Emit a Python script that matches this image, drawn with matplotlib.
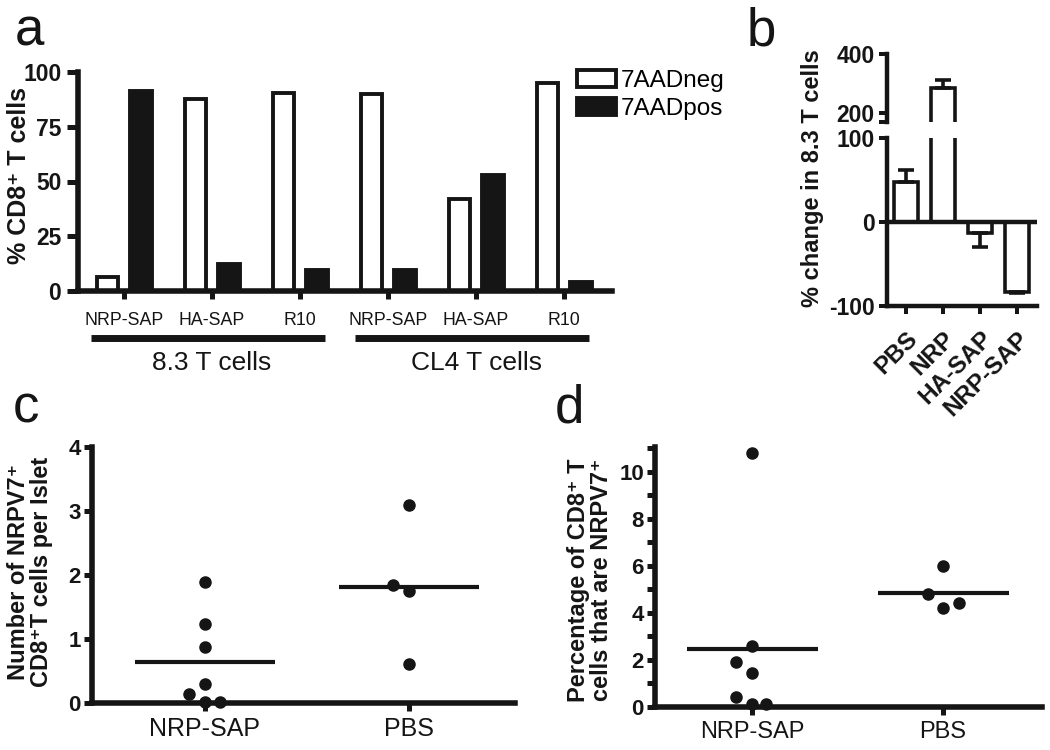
import matplotlib
matplotlib.use('Agg')
import matplotlib.pyplot as plt
import numpy as np
from matplotlib import font_manager

plt.rcParams['font.family'] = ['Liberation Sans', 'DejaVu Sans']
installed = {f.name for f in font_manager.fontManager.ttflist}
narrow = 'Liberation Sans Narrow' if 'Liberation Sans Narrow' in installed else 'Liberation Sans'
narrow_size = 15 if narrow == 'Liberation Sans Narrow' else 12.8
INK = '#151515'

# panel a: viability of 8.3 / CL4 T cells after treatment
a_groups = ['NRP-SAP', 'HA-SAP', 'R10', 'NRP-SAP', 'HA-SAP', 'R10']
a_neg = [6.4, 87.5, 90.4, 90.1, 41.9, 95.0]
a_pos = [91.2, 12.2, 9.4, 9.7, 52.8, 4.1]
a_cells = ['8.3 T cells', 'CL4 T cells']

# panel b: % change in 8.3 T cells
b_labels = ['PBS', 'NRP', 'HA-SAP', 'NRP-SAP']
b_change = [47.5, 285, -13.5, -83]
b_err = [14, 27, 16, 1]

# panel c: NRPV7+ CD8+ T cells per islet
c_groups = ['NRP-SAP', 'PBS']
c_nrp = [1.89, 1.23, 0.875, 0.30, 0.146, 0.016, 0.016]
c_nrp_dx = [0, 0, 0, 0, -0.08, 0, 0.075]
c_pbs = [3.09, 1.85, 1.75, 0.61]
c_pbs_dx = [0, -0.08, 0, 0]
c_means = [0.64, 1.82]

# panel d: % of CD8+ T cells that are NRPV7+
d_groups = ['NRP-SAP', 'PBS']
d_nrp = [10.82, 2.60, 1.91, 1.45, 0.43, 0.14, 0.14]
d_nrp_dx = [0, 0, -0.082, 0, -0.082, 0, 0.075]
d_pbs = [5.99, 4.82, 4.21, 4.43]
d_pbs_dx = [0, -0.08, 0, 0.085]
d_means = [2.48, 4.85]

W, H = 1050, 750
fig = plt.figure(figsize=(W / 100, H / 100), dpi=100)


def px_box(l, t, r, b):
    return [l / W, 1 - b / H, (r - l) / W, (b - t) / H]


def style(ax, lw=4):
    for s in ['top', 'right']:
        ax.spines[s].set_visible(False)
    for s in ['left', 'bottom']:
        ax.spines[s].set_linewidth(lw)
        ax.spines[s].set_color(INK)
    ax.tick_params(width=lw * 0.9, length=6, color=INK, labelcolor=INK)


# ---------- a ----------
ax_a = fig.add_axes(px_box(78, 72, 612, 291))
style(ax_a)
x = np.arange(len(a_groups))
ax_a.bar(x - 0.19, a_neg, 0.245, facecolor='white', edgecolor=INK, lw=2.8, label='7AADneg')
ax_a.bar(x + 0.19, a_pos, 0.245, facecolor=INK, edgecolor=INK, lw=2.8, label='7AADpos')
ax_a.set_xlim(-0.523, 5.545)
ax_a.set_ylim(0, 100)
ax_a.set_yticks([0, 25, 50, 75, 100], ['0', '25', '50', '75', '100'], fontweight='bold', fontsize=16.5)
ax_a.set_xticks(x, a_groups, fontfamily=narrow, fontsize=narrow_size)
ax_a.tick_params(axis='x', pad=9)
ax_a.tick_params(axis='y', pad=4, length=8)

trans = ax_a.get_xaxis_transform()
for i, name in enumerate(a_cells):
    xs = x[3 * i:3 * i + 3]
    ax_a.plot([xs[0] - 0.38, xs[-1] + 0.28], [-0.215, -0.215], transform=trans,
              clip_on=False, lw=5, color=INK, solid_capstyle='butt')
    ax_a.text(xs[1], -0.33, name, transform=trans, ha='center', va='center', fontsize=19, color=INK)

ax_a.legend(loc='upper left', bbox_to_anchor=(577 / W, 1 - 70 / H), bbox_transform=fig.transFigure,
            frameon=False, fontsize=17.5, handlelength=1.6, handleheight=0.65, handletextpad=0.2,
            labelspacing=0.25, borderpad=0, borderaxespad=0)
fig.text(19 / W, 1 - 176 / H, '% CD8\u207a T cells', rotation=90, ha='center', va='center',
         fontsize=18, fontweight='bold', color=INK)

# ---------- b (broken axis) ----------
ax_bt = fig.add_axes(px_box(887, 54, 1037, 122))
ax_b = fig.add_axes(px_box(887, 138, 1037, 306))
xb = np.arange(len(b_labels))
lower = [e if v < 0 else 0 for v, e in zip(b_change, b_err)]
upper = [e if v > 0 else 0 for v, e in zip(b_change, b_err)]
for ax in (ax_bt, ax_b):
    style(ax, lw=3.2)
    ax.bar(xb, b_change, 0.66, facecolor='white', edgecolor=INK, lw=2.6)
    ax.errorbar(xb, b_change, yerr=[lower, upper], fmt='none', ecolor=INK,
                elinewidth=2.6, capsize=6, capthick=2.6)
    ax.set_xlim(-0.51, 3.54)

ax_bt.set_ylim(169.5, 400)
ax_bt.spines['bottom'].set_visible(False)
ax_bt.set_xticks([])
ax_bt.set_yticks([169.5, 200, 400], ['', '200', '400'], fontweight='bold', fontsize=16.5)
ax_bt.tick_params(axis='y', pad=3)

ax_b.set_ylim(-100, 100)
ax_b.axhline(0, color=INK, lw=3.2)
ax_b.set_yticks([-100, 0, 100], ['-100', '0', '100'], fontweight='bold', fontsize=16.5)
ax_b.tick_params(axis='y', pad=3)
ax_b.set_xticks(xb, b_labels, rotation=45, ha='right', va='top', rotation_mode='anchor',
                fontweight='bold', fontsize=17.5)
ax_b.tick_params(axis='x', pad=9)
fig.text(812 / W, 1 - 178 / H, '% change in 8.3 T cells', rotation=90, ha='center', va='center',
         fontsize=17, fontweight='bold', color=INK)

# ---------- c ----------
ax_c = fig.add_axes(px_box(92, 447, 515, 703))
style(ax_c)
xc = np.arange(1, len(c_groups) + 1)
ax_c.plot(xc[0] + np.array(c_nrp_dx), c_nrp, 'o', ms=8, color=INK, clip_on=False)
ax_c.plot(xc[1] + np.array(c_pbs_dx), c_pbs, 'o', ms=8, color=INK, clip_on=False)
ax_c.hlines(c_means, xc - 0.343, xc + 0.343, color=INK, lw=3)
ax_c.set_xlim(0.446, 2.52)
ax_c.set_ylim(0, 4)
ax_c.set_yticks([0, 1, 2, 3, 4], ['0', '1', '2', '3', '4'], fontweight='bold', fontsize=16)
ax_c.set_xticks(xc, c_groups, fontsize=18)
ax_c.tick_params(axis='y', pad=2)
ax_c.tick_params(axis='x', pad=4)
fig.text(30 / W, 1 - 572 / H, 'Number of NRPV7\u207a\nCD8\u207aT cells per Islet', rotation=90,
         ha='center', va='center', fontsize=17, fontweight='bold', linespacing=0.95, color=INK)

# ---------- d ----------
ax_d = fig.add_axes(px_box(655, 447, 1042, 707))
style(ax_d)
xd = np.arange(1, len(d_groups) + 1)
ax_d.plot(xd[0] + np.array(d_nrp_dx), d_nrp, 'o', ms=8, color=INK, clip_on=False)
ax_d.plot(xd[1] + np.array(d_pbs_dx), d_pbs, 'o', ms=8, color=INK, clip_on=False)
ax_d.hlines(d_means, xd - 0.343, xd + 0.343, color=INK, lw=3)
ax_d.set_xlim(0.492, 2.518)
ax_d.set_ylim(0, 11.06)
ax_d.set_yticks([0, 2, 4, 6, 8, 10], ['0', '2', '4', '6', '8', '10'], fontweight='bold', fontsize=16)
ax_d.set_yticks(np.arange(1, 12, 2), minor=True)
ax_d.tick_params(axis='y', which='minor', width=3.6, length=6, color=INK)
ax_d.set_xticks(xd, d_groups, fontsize=17)
ax_d.tick_params(axis='y', pad=2)
ax_d.tick_params(axis='x', pad=4)
fig.text(590 / W, 1 - 580 / H, 'Percentage of CD8\u207a T\ncells that are NRPV7\u207a', rotation=90,
         ha='center', va='center', fontsize=17, fontweight='bold', linespacing=0.95, color=INK)

# panel letters
for letter, lx, ly in [('a', 15, 45), ('b', 747, 45), ('c', 13, 423), ('d', 555, 423)]:
    fig.text(lx / W, 1 - ly / H, letter, fontsize=38, va='baseline', ha='left', color=INK)

fig.savefig('out.png', dpi=100)
